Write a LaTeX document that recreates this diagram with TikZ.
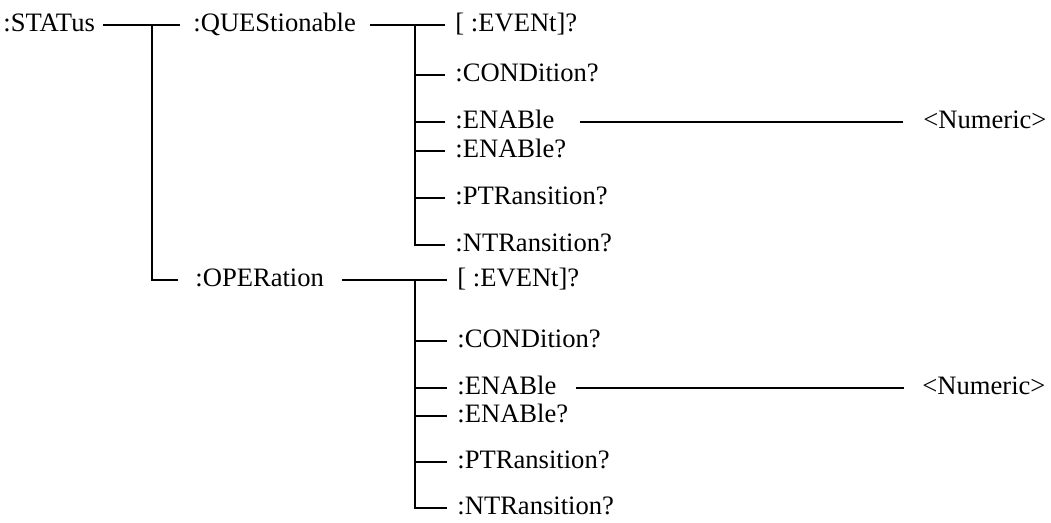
\documentclass[tikz,border=0pt]{standalone}
\usepackage{fontspec}
\setmainfont{Liberation Serif}
\usetikzlibrary{positioning,calc}

\begin{document}
\begin{tikzpicture}[
  x=0.5pt, y=-0.5pt,
  font=\fontsize{13.3}{16}\selectfont,
  lbl/.style={anchor=west, inner sep=0pt, text height=1.5ex, text depth=0pt},
  ln/.style={line width=0.8pt}]
\useasboundingbox (0,0) rectangle (1051,523);
% root and the two subsystems
\node[lbl] (status) at (3,25) {:STATus};
\node[lbl] (ques) at (193,25) {:QUEStionable};
\node[lbl] (oper) at (195,280) {:OPERation};
% QUEStionable leaves
\node[lbl] (qev) at (455,25) {[ :EVENt]?};
\node[lbl] (qcond) at (455,75) {:CONDition?};
\node[lbl] (qen) at (455,122) {:ENABle};
\node[lbl] (qenq) at (455,151) {:ENABle?};
\node[lbl] (qptr) at (455,198) {:PTRansition?};
\node[lbl] (qntr) at (455,245) {:NTRansition?};
\node[lbl] (qnum) at (923,122) {<Numeric>};
% OPERation leaves
\node[lbl] (oev) at (457,280) {[ :EVENt]?};
\node[lbl] (ocond) at (457,341) {:CONDition?};
\node[lbl] (oen) at (457,388) {:ENABle};
\node[lbl] (oenq) at (457,416) {:ENABle?};
\node[lbl] (optr) at (457,462) {:PTRansition?};
\node[lbl] (ontr) at (457,508) {:NTRansition?};
\node[lbl] (onum) at (922,388) {<Numeric>};
% junctions
\coordinate (js) at (152,25);
\coordinate (jq) at (415,25);
\coordinate (jo) at (415,280);

\draw[ln] ([xshift=4pt]status.east) -- ([xshift=-6.5pt]ques.west);
\draw[ln] (js) |- ([xshift=-8.5pt]oper.west);
\draw[ln] ([xshift=7pt]ques.east) -- ([xshift=-5pt]qev.west);
\draw[ln] (jq) |- ([xshift=-5pt]qntr.west);
\foreach \n in {qcond,qen,qenq,qptr}
  \draw[ln] (jq |- \n.west) -- ([xshift=-5pt]\n.west);
\draw[ln] ([xshift=9pt]oper.east) -- ([xshift=-5pt]oev.west);
\draw[ln] (jo) |- ([xshift=-5pt]ontr.west);
\foreach \n in {ocond,oen,oenq,optr}
  \draw[ln] (jo |- \n.west) -- ([xshift=-5pt]\n.west);
\draw[ln] ([xshift=12.5pt]qen.east) -- ([xshift=-10pt]qnum.west);
\draw[ln] ([xshift=9.5pt]oen.east) -- ([xshift=-9pt]onum.west);
\end{tikzpicture}
\end{document}
